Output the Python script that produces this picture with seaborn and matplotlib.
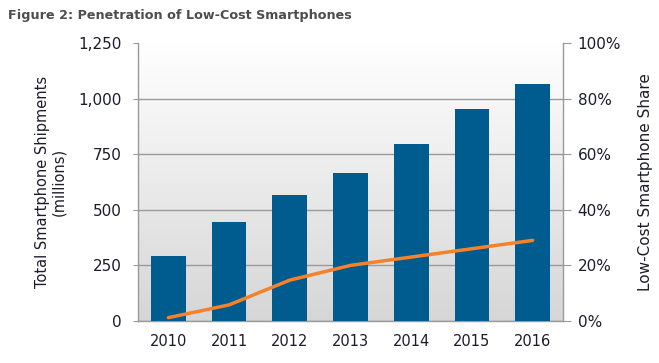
import numpy as np
import pandas as pd
import matplotlib
matplotlib.use('Agg')
import matplotlib.pyplot as plt
import seaborn as sns
from matplotlib.ticker import FuncFormatter, PercentFormatter

# данные
years = ['2010', '2011', '2012', '2013', '2014', '2015', '2016']
shipments = [292, 445, 567, 665, 796, 953, 1066]          # млн штук
low_cost_share = [0.012, 0.058, 0.147, 0.200, 0.230, 0.260, 0.290]

df = pd.DataFrame({'year': years, 'shipments': shipments, 'share': low_cost_share})

sns.set_style('white')
plt.rcParams['font.family'] = ['DejaVu Sans']

bar_color = '#005b8f'
line_color = '#f5822a'
grid_color = '#9a9a9a'
text_color = '#1c1c2c'

fig = plt.figure(figsize=(6.59, 3.63), dpi=100)
ax = fig.add_axes([138 / 659, 1 - 321 / 363, (563 - 138) / 659, (321 - 43) / 363])

# фон с градиентом: белый сверху, серый снизу
grad = np.linspace(1, 0, 256).reshape(-1, 1)
ax.imshow(grad, extent=[0, 1, 0, 1], transform=ax.transAxes, aspect='auto',
          cmap=matplotlib.colors.LinearSegmentedColormap.from_list('bg', ['#d6d6d6', '#ffffff']),
          zorder=0)

sns.barplot(data=df, x='year', y='shipments', color=bar_color, width=0.57,
            saturation=1, linewidth=0, ax=ax, zorder=3)
ax.set_xlim(-0.5, 6.5)
ax.set_ylim(0, 1250)
ax.set_yticks(range(0, 1251, 250))
ax.yaxis.set_major_formatter(FuncFormatter(lambda v, p: f'{int(v):,}'))
ax.yaxis.grid(True, color=grid_color, linewidth=1)
ax.set_axisbelow(True)
for line in ax.get_ygridlines():
    line.set_zorder(1)
ax.get_ygridlines()[-1].set_visible(False)

ax.set_xlabel('')
ax.set_ylabel('Total Smartphone Shipments\n(millions)', fontsize=10.5, color=text_color,
              labelpad=9, linespacing=1.05)

# подписи лет под столбцами, засечки между ними
ax.set_xticks(range(len(years)))
ax.set_xticklabels(years)
ax.set_xticks(np.arange(-0.5, 6.6, 1), minor=True)
ax.tick_params(axis='x', which='major', length=0, pad=9, labelsize=10.5, labelcolor=text_color)
ax.tick_params(axis='x', which='minor', length=4, color=grid_color, direction='out')
ax.tick_params(axis='y', length=3.6, color=grid_color, direction='out', pad=8,
               labelsize=11, labelcolor=text_color, left=True)

for side in ['top', 'right']:
    ax.spines[side].set_visible(False)
for side in ['left', 'bottom']:
    ax.spines[side].set_color(grid_color)
    ax.spines[side].set_linewidth(1)

# правая ось - доля дешевых смартфонов
ax2 = ax.twinx()
sns.lineplot(data=df, x='year', y='share', color=line_color, linewidth=2.5,
             ax=ax2, zorder=5, sort=False)
ax2.set_ylim(0, 1)
ax2.set_yticks(np.arange(0, 1.01, 0.2))
ax2.yaxis.set_major_formatter(PercentFormatter(1.0, decimals=0))
ax2.tick_params(axis='y', length=5.5, color=grid_color, direction='out', pad=5,
                labelsize=11, labelcolor=text_color, right=True)
ax2.set_ylabel('Low-Cost Smartphone Share', fontsize=11, color=text_color, labelpad=12)
ax2.set_xlabel('')
for side in ['top', 'left', 'bottom']:
    ax2.spines[side].set_visible(False)
ax2.spines['right'].set_color(grid_color)
ax2.spines['right'].set_linewidth(1)
ax2.grid(False)

fig.text(8 / 659, 1 - 16 / 363, 'Figure 2: Penetration of Low-Cost Smartphones',
         fontsize=9.2, fontweight='bold', color='#4d4d4d', va='center', ha='left')

fig.savefig('out.png', dpi=100)
